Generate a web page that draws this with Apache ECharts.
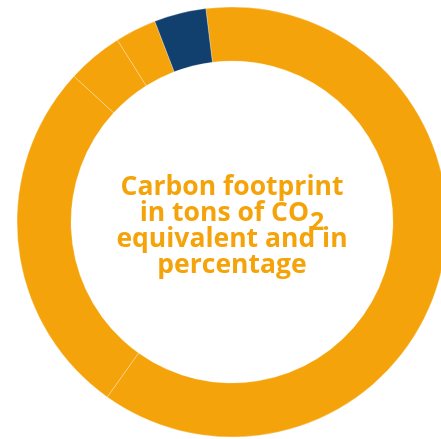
<!DOCTYPE html>
<html>
<head>
<meta charset="utf-8">
<script src="https://cdn.jsdelivr.net/npm/echarts@6/dist/echarts.min.js"></script>
<style>html,body{margin:0;padding:0;background:#fff;}#c{width:441px;height:439px;}</style>
</head>
<body>
<div id="c"></div>
<script>
// Slices clockwise starting just left of 12 o'clock
const categories = ['Segment 1', 'Segment 2', 'Segment 3', 'Segment 4', 'Segment 5'];
const values = [61.8, 27.0, 4.2, 3.1, 3.9];
const sliceColors = ['#F5A30A', '#F5A30A', '#F5A30A', '#F5A30A', '#11406E'];
const titleLines = ['Carbon footprint', 'in tons of CO{sub|2}', 'equivalent and in', 'percentage'];

const chart = echarts.init(document.getElementById('c'), null, {renderer: 'canvas'});
chart.setOption({
  animation: false,
  backgroundColor: '#ffffff',
  series: [{
    type: 'pie',
    center: [232, 222],
    radius: [161, 215],
    startAngle: 97,
    clockwise: true,
    label: {show: false},
    labelLine: {show: false},
    emphasis: {disabled: true},
    itemStyle: {borderColor: 'rgba(255,255,255,0.55)', borderWidth: 0.5},
    data: categories.map((c, i) => ({name: c, value: values[i], itemStyle: {color: sliceColors[i]}}))
  }],
  graphic: [{
    type: 'text',
    x: 232,
    y: 226,
    style: {
      text: titleLines.join('\n'),
      align: 'center',
      verticalAlign: 'middle',
      fill: '#F5A30A',
      font: 'bold 26.5px "Open Sans"',
      lineHeight: 26,
      rich: {
        sub: {fill: '#F5A30A', font: 'bold 25px "Open Sans"', lineHeight: 26, padding: [20, 0, 0, 1]}
      }
    }
  }]
});
</script>
</body>
</html>
